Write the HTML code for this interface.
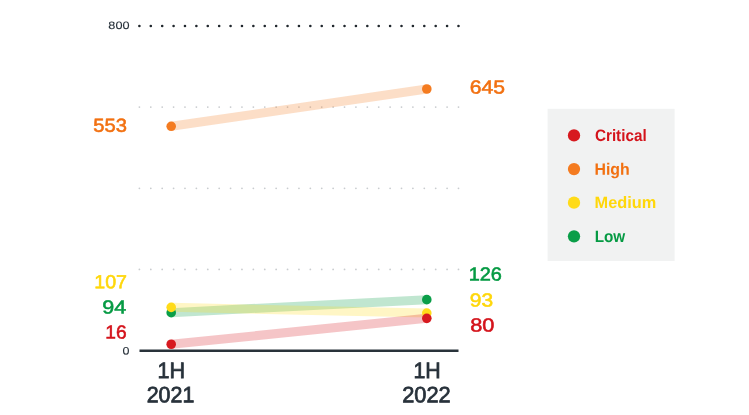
<!DOCTYPE html>
<html lang="en">
<head>
<meta charset="utf-8">
<title>Vulnerabilities by severity</title>
<style>
html,body{margin:0;padding:0;background:#fff;}
body{width:749px;height:415px;overflow:hidden;}
svg{display:block;}
text{font-family:"Liberation Sans",sans-serif;text-rendering:geometricPrecision;}
.val{font-size:18.9px;stroke-width:0.55px;}
.ax{font-size:22.2px;stroke-width:0.75px;}
.tick{font-size:10.8px;stroke-width:0.1px;}
.leg{font-size:16.5px;font-weight:bold;}
</style>
</head>
<body>
<svg width="749" height="415" viewBox="0 0 749 415">
  <rect width="749" height="415" fill="#ffffff"/>

  <!-- grid dotted lines -->
  <g fill="none" stroke-linecap="round">
    <line x1="139.4" y1="26" x2="459.0" y2="26" stroke="#20272d" stroke-width="2.6" stroke-dasharray="0 11.396"/>
    <line x1="139.4" y1="107.1" x2="459.0" y2="107.1" stroke="#c9cccf" stroke-width="1.8" stroke-dasharray="0 11.396"/>
    <line x1="139.4" y1="188.3" x2="459.0" y2="188.3" stroke="#c9cccf" stroke-width="1.8" stroke-dasharray="0 11.396"/>
    <line x1="139.4" y1="269.4" x2="459.0" y2="269.4" stroke="#c9cccf" stroke-width="1.8" stroke-dasharray="0 11.396"/>
  </g>

  <!-- bands -->
  <g fill="none" stroke-width="9" stroke-linecap="butt">
    <line x1="171.2" y1="312.65" x2="426.8" y2="299.65" stroke="#0a9e48" stroke-opacity="0.26"/>
    <line x1="171.2" y1="307.35" x2="426.8" y2="313.05" stroke="#ffdb19" stroke-opacity="0.25"/>
    <line x1="171.2" y1="126.3" x2="426.8" y2="89" stroke="#f47b20" stroke-opacity="0.25"/>
    <line x1="171.2" y1="344.25" x2="426.8" y2="318.35" stroke="#d7191f" stroke-opacity="0.25"/>
  </g>

  <!-- axis -->
  <line x1="139.5" y1="350.8" x2="458.5" y2="350.8" stroke="#29333a" stroke-width="2.6"/>

  <!-- dots -->
  <g>
    <circle cx="171.2" cy="312.65" r="4.8" fill="#0a9e48"/>
    <circle cx="426.8" cy="299.65" r="4.8" fill="#0a9e48"/>
    <circle cx="171.2" cy="307.35" r="4.8" fill="#ffdb19"/>
    <circle cx="426.8" cy="313.05" r="4.8" fill="#ffdb19"/>
    <circle cx="171.2" cy="126.3" r="4.8" fill="#f47b20"/>
    <circle cx="426.8" cy="89" r="4.8" fill="#f47b20"/>
    <circle cx="171.2" cy="344.25" r="4.8" fill="#d7191f"/>
    <circle cx="426.8" cy="318.35" r="4.8" fill="#d7191f"/>
  </g>

  <!-- text labels -->
  <text class="tick" transform="translate(108.33 29.08) scale(1.1760 1) rotate(0.03)" text-anchor="start" fill="#27313a" stroke="#27313a">800</text>
  <text class="tick" transform="translate(122.39 354.54) scale(1.1562 1) rotate(0.03)" text-anchor="start" fill="#27313a" stroke="#27313a">0</text>
  <text class="val" transform="translate(126.85 131.81) scale(1.0670 1) rotate(0.03)" text-anchor="end" fill="#f27010" stroke="#f27010">553</text>
  <text class="val" transform="translate(127.00 288.20) scale(1.0389 1) rotate(0.03)" text-anchor="end" fill="#ffd70a" stroke="#ffd70a">107</text>
  <text class="val" transform="translate(126.21 313.42) scale(1.1373 1) rotate(0.03)" text-anchor="end" fill="#059a43" stroke="#059a43">94</text>
  <text class="val" transform="translate(126.70 338.60) scale(1.0155 1) rotate(0.03)" text-anchor="end" fill="#d4131b" stroke="#d4131b">16</text>
  <text class="val" transform="translate(469.74 93.58) scale(1.1172 1) rotate(0.03)" text-anchor="start" fill="#f27010" stroke="#f27010">645</text>
  <text class="val" transform="translate(468.63 280.60) scale(1.0548 1) rotate(0.03)" text-anchor="start" fill="#059a43" stroke="#059a43">126</text>
  <text class="val" transform="translate(469.79 306.49) scale(1.1096 1) rotate(0.03)" text-anchor="start" fill="#ffd70a" stroke="#ffd70a">93</text>
  <text class="val" transform="translate(470.13 331.53) scale(1.1506 1) rotate(0.03)" text-anchor="start" fill="#d4131b" stroke="#d4131b">80</text>
  <text class="ax" transform="translate(171.22 377.98) scale(0.9718 1) rotate(0.03)" text-anchor="middle" fill="#27313a" stroke="#27313a">1H</text>
  <text class="ax" transform="translate(170.47 402.15) scale(0.9651 1) rotate(0.03)" text-anchor="middle" fill="#27313a" stroke="#27313a">2021</text>
  <text class="ax" transform="translate(427.09 378.00) scale(0.9621 1) rotate(0.03)" text-anchor="middle" fill="#27313a" stroke="#27313a">1H</text>
  <text class="ax" transform="translate(426.40 402.21) scale(0.9837 1) rotate(0.03)" text-anchor="middle" fill="#27313a" stroke="#27313a">2022</text>

  <!-- legend -->
  <rect x="547.6" y="108.8" width="127" height="152.25" fill="#f1f2f2"/>
  <g>
    <circle cx="574" cy="135.4" r="6.15" fill="#d7191f"/>
    <circle cx="574" cy="169.05" r="6.15" fill="#f47b20"/>
    <circle cx="574" cy="202.7" r="6.15" fill="#ffdb19"/>
    <circle cx="574" cy="236.35" r="6.15" fill="#0a9e48"/>
  </g>
  <text class="leg" transform="translate(594.93 141.00) scale(0.9246 1) rotate(0.03)" text-anchor="start" fill="#d4131b">Critical</text>
  <text class="leg" transform="translate(594.45 174.70) scale(0.9613 1) rotate(0.03)" text-anchor="start" fill="#f27010">High</text>
  <text class="leg" transform="translate(594.58 207.89) scale(0.9898 1) rotate(0.03)" text-anchor="start" fill="#ffd70a">Medium</text>
  <text class="leg" transform="translate(594.66 242.01) scale(0.9269 1) rotate(0.03)" text-anchor="start" fill="#059a43">Low</text>
</svg>
</body>
</html>
